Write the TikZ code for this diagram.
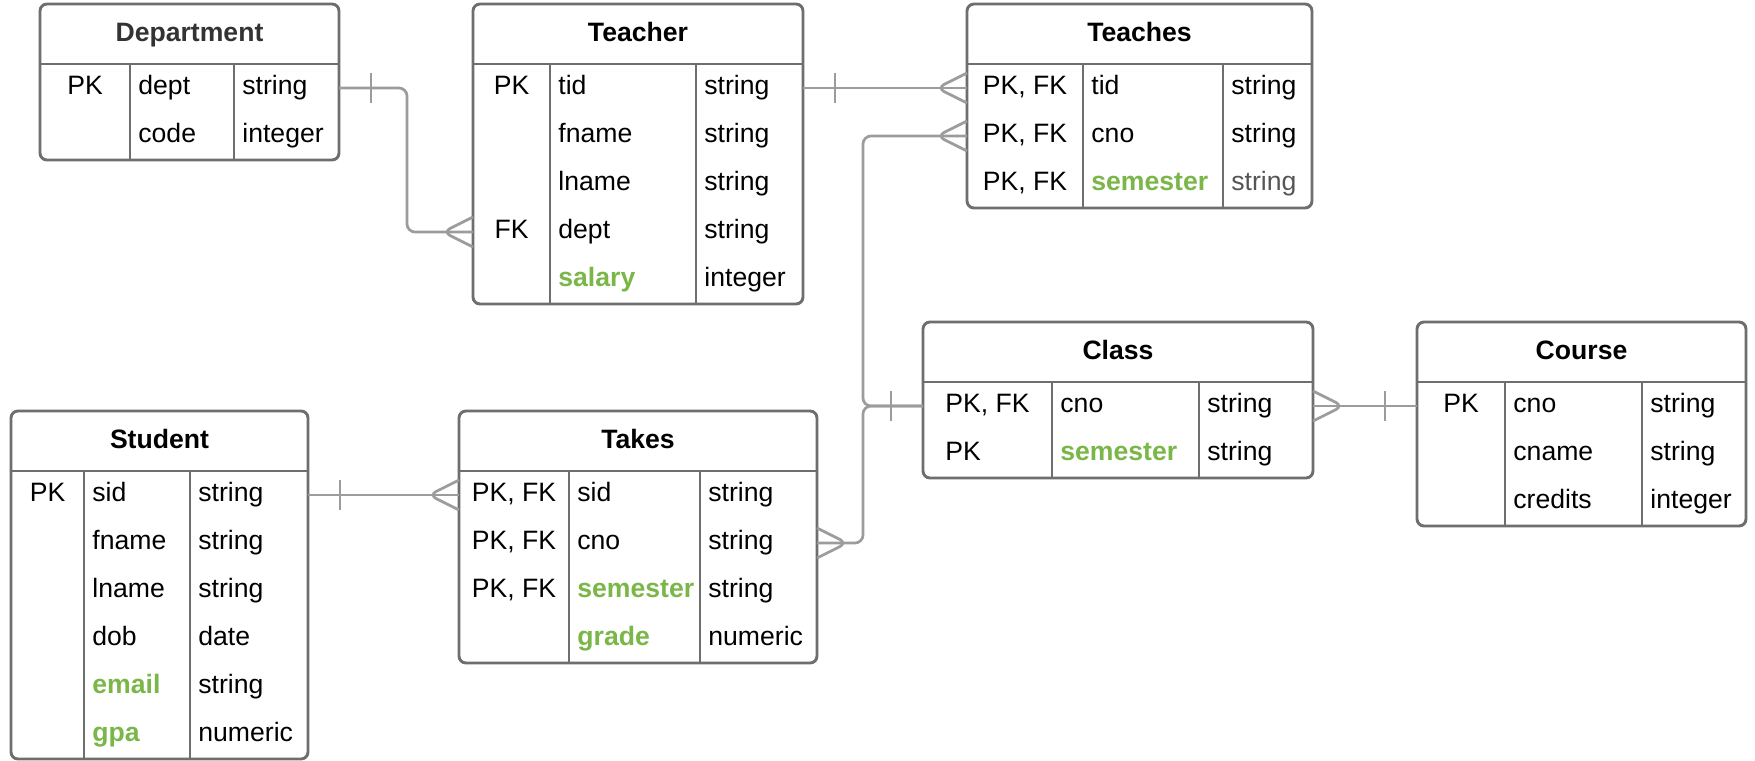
\documentclass[tikz,border=0pt]{standalone}
\usepackage{fontspec}
\setmainfont{Liberation Sans}
\usetikzlibrary{calc}
\definecolor{ergreen}{HTML}{7AB648}
\definecolor{erborder}{HTML}{6E6E6E}
\definecolor{erconn}{HTML}{9C9C9C}
\definecolor{ertitle}{HTML}{333333}
\definecolor{ergraytext}{HTML}{555555}
\newcommand\gr[1]{\textcolor{ergreen}{\bfseries #1}}
\newcommand\ertab[9]{%
 \pgfmathsetmacro\erbot{#3+60+48*#7}%
 \pgfmathsetmacro\erw{(#6-#2)*0.5}%
 \pgfmathsetmacro\erh{(60+48*#7)*0.5}%
 \node[tabbox, minimum width=\erw pt, minimum height=\erh pt, anchor=north west] (#1) at (#2,#3) {};
 \draw[tabline] (#2,#3+60) -- (#6,#3+60);
 \draw[tabline] (#4,#3+60) -- (#4,\erbot);
 \draw[tabline] (#5,#3+60) -- (#5,\erbot);
 \node[titletext] (#1-title) at ({(#2+#6)/2},#3+37) {#8};
 \foreach \ka/\kb/\kc [count=\ki] in {#9} {
   \pgfmathsetmacro\ery{#3+60+48*\ki-24}
   \node[rowbox, minimum width=\erw pt] (#1-\ki) at ({(#2+#6)/2},\ery) {};
   \node[celltext, anchor=base] (#1-\ki-k) at ({(#2+#4)/2},\ery+6.5) {\ka};
   \node[celltext, anchor=base west] (#1-\ki-n) at (#4+8,\ery+6.5) {\kb};
   \node[celltext, anchor=base west] (#1-\ki-t) at (#5+8,\ery+6.5) {\kc};
 }
}
\newcommand\crowW[1]{\draw[conn] ([yshift=7.5pt]#1) -- ([xshift=-15pt]#1) -- ([yshift=-7.5pt]#1);}
\newcommand\crowE[1]{\draw[conn] ([yshift=7.5pt]#1) -- ([xshift=15pt]#1) -- ([yshift=-7.5pt]#1);}
\newcommand\barE[1]{\draw[conn] ([xshift=16pt,yshift=7.5pt]#1) -- ([xshift=16pt,yshift=-7.5pt]#1);}
\newcommand\barW[1]{\draw[conn] ([xshift=-16pt,yshift=7.5pt]#1) -- ([xshift=-16pt,yshift=-7.5pt]#1);}
\begin{document}
\begin{tikzpicture}[x=0.5pt,y=-0.5pt,
  tabbox/.style={draw=erborder, line width=1.45pt, rounded corners=3.5pt, inner sep=0pt, outer sep=0pt, fill=white},
  tabline/.style={draw=erborder, line width=1.45pt},
  rowbox/.style={inner sep=0pt, outer sep=0pt, minimum height=24pt},
  titletext/.style={anchor=base, inner sep=0pt, font=\fontsize{13.3}{16}\selectfont\bfseries},
  celltext/.style={inner sep=0pt, font=\fontsize{13.3}{16}\selectfont},
  conn/.style={draw=erconn, line width=1.35pt, rounded corners=4pt}]
\fill[white] (0,0) rectangle (1755,760);
\useasboundingbox (0,0) rectangle (1755,760);

\ertab{Department}{40}{4}{130}{234}{339}{2}{\textcolor{ertitle}{Department}}{PK/dept/string, /code/integer}
\ertab{Teacher}{473}{4}{550}{696}{803}{5}{Teacher}{PK/tid/string, /fname/string, /lname/string, FK/dept/string, /\gr{salary}/integer}
\ertab{Teaches}{967}{4}{1083}{1223}{1312}{3}{Teaches}{{PK, FK}/tid/string, {PK, FK}/cno/string, {PK, FK}/\gr{semester}/\textcolor{ergraytext}{string}}
\ertab{Class}{923}{322}{1052}{1199}{1313}{2}{Class}{{PK, FK}/cno/string, {PK\phantom{, FK}}/\gr{semester}/string}
\ertab{Course}{1417}{322}{1505}{1642}{1746}{3}{Course}{PK/cno/string, /cname/string, /credits/integer}
\ertab{Student}{11}{411}{84}{190}{308}{6}{Student}{PK/sid/string, /fname/string, /lname/string, /dob/date, /\gr{email}/string, /\gr{gpa}/numeric}
\ertab{Takes}{459}{411}{569}{700}{817}{4}{Takes}{{PK, FK}/sid/string, {PK, FK}/cno/string, {PK, FK}/\gr{semester}/string, /\gr{grade}/numeric}

\coordinate (jx) at (863,406);

% Department - Teacher
\draw[conn] (Department-1.east) -- ++(68,0) |- (Teacher-4.west);
\barE{Department-1.east}
\crowW{Teacher-4.west}
% Teacher - Teaches
\draw[conn] (Teacher-1.east) -- (Teaches-1.west);
\barE{Teacher-1.east}
\crowW{Teaches-1.west}
% Teaches - Class
\draw[conn] (Teaches-2.west) -| (jx |- Class-1.west) -- (Class-1.west);
\crowW{Teaches-2.west}
\barW{Class-1.west}
% Takes - Class
\draw[conn] (Takes-2.east) -| (jx |- Class-1.west) -- (Class-1.west);
\crowE{Takes-2.east}
% Class - Course
\draw[conn] (Class-1.east) -- (Course-1.west);
\crowE{Class-1.east}
\barW{Course-1.west}
% Student - Takes
\draw[conn] (Student-1.east) -- (Takes-1.west);
\barE{Student-1.east}
\crowW{Takes-1.west}
\end{tikzpicture}
\end{document}
